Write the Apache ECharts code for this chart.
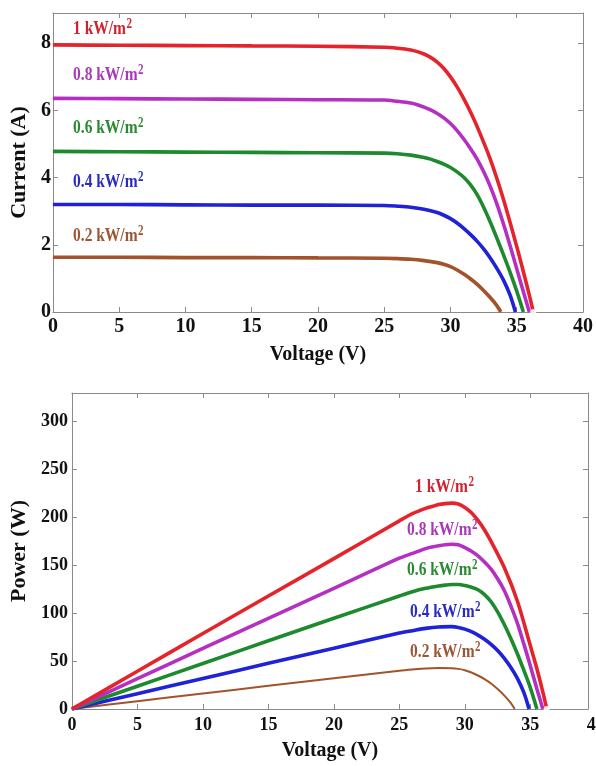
<!DOCTYPE html>
<html>
<head>
<meta charset="utf-8">
<script src="https://cdn.jsdelivr.net/npm/echarts@6/dist/echarts.min.js"></script>
<style>
html,body{margin:0;padding:0;background:#fff;}
#c{width:596px;height:766px;}
</style>
</head>
<body>
<div id="c"></div>
<script>
// ---- data ----
const irradiance = ['1', '0.8', '0.6', '0.4', '0.2'];

const v10 = [0, 5, 10, 15, 20, 25, 26, 27, 27.5, 28, 28.5, 29, 29.5, 30, 30.5, 31, 31.5, 32, 33, 34, 35, 35.5, 36, 36.25];
const i10 = [7.95, 7.94, 7.93, 7.92, 7.91, 7.88, 7.85, 7.80, 7.75, 7.68, 7.58, 7.44, 7.25, 7.00, 6.70, 6.35, 5.96, 5.53, 4.55, 3.35, 1.95, 1.20, 0.42, 0];
const p10 = [0, 39.4, 78.8, 118, 157, 196.5, 204, 209.5, 211.5, 213.5, 214.5, 215, 214, 210.5, 205, 197, 187, 175, 148, 113, 66, 42, 15, 0];

const v08 = [0, 5, 10, 15, 20, 25, 26, 27, 27.5, 28, 28.5, 29, 29.5, 30, 30.5, 31, 31.5, 32, 32.5, 33, 33.5, 34, 34.5, 35, 35.5, 35.95];
const i08 = [6.36, 6.35, 6.34, 6.33, 6.32, 6.31, 6.27, 6.22, 6.17, 6.10, 6.02, 5.91, 5.78, 5.61, 5.40, 5.15, 4.87, 4.56, 4.18, 3.74, 3.22, 2.62, 1.97, 1.29, 0.60, 0];
const p08 = [0, 31.6, 63.2, 94.7, 126, 157.5, 162.5, 167.5, 169.2, 170.5, 171.5, 172, 171.5, 168.5, 164.7, 160, 153.5, 146, 136, 124, 108, 90, 68, 45, 21, 0];

const v06 = [0, 5, 10, 15, 20, 25, 26, 27, 28, 28.5, 29, 29.5, 30, 30.5, 31, 31.5, 32, 32.5, 33, 33.5, 34, 34.5, 35, 35.5];
const i06 = [4.78, 4.77, 4.76, 4.75, 4.74, 4.73, 4.71, 4.67, 4.60, 4.55, 4.48, 4.40, 4.30, 4.17, 4.01, 3.79, 3.50, 3.12, 2.68, 2.20, 1.70, 1.18, 0.62, 0];
const p06 = [0, 23.8, 47.5, 71.2, 94.8, 118, 122.5, 126, 128.5, 129.4, 130, 130, 129, 127.2, 124.5, 119.5, 112, 101.5, 88.5, 74, 58, 40.5, 22, 0];

const v04 = [0, 5, 10, 15, 20, 25, 26, 27, 28, 29, 29.5, 30, 30.5, 31, 31.5, 32, 32.5, 33, 33.5, 34, 34.5, 34.9];
const i04 = [3.20, 3.20, 3.19, 3.18, 3.18, 3.17, 3.15, 3.12, 3.06, 2.96, 2.88, 2.78, 2.65, 2.49, 2.31, 2.11, 1.88, 1.61, 1.30, 0.95, 0.50, 0];
const p04 = [0, 16, 31.9, 47.7, 63.5, 79.3, 81.8, 84.2, 85.7, 86, 85.2, 83.4, 80.8, 77.2, 72.8, 67.5, 61.1, 53.1, 43.6, 32.3, 17.3, 0];

const v02 = [0, 5, 10, 15, 20, 25, 26, 27, 28, 29, 29.5, 30, 30.5, 31, 31.5, 32, 32.5, 33, 33.5, 33.8];
const i02 = [1.63, 1.63, 1.62, 1.62, 1.61, 1.60, 1.59, 1.57, 1.53, 1.47, 1.42, 1.35, 1.25, 1.13, 0.99, 0.83, 0.64, 0.43, 0.19, 0];
const p02 = [0, 8.1, 16.2, 24.2, 32.2, 40, 41.3, 42.4, 42.8, 42.6, 41.9, 40.5, 38.1, 35, 31.2, 26.6, 20.8, 14.2, 6.4, 0];

// ---- styling ----
const lineColors = ['#e5232b', '#b42fc2', '#1e8a2e', '#1f22d6', '#a3532b'];
const labelColors = ['#cf2430', '#a83ab8', '#2a8a32', '#2a2cc0', '#9c5636'];
const FONT = 'Liberation Serif, Times New Roman, serif';
const AX = '#8a8a8a';

const volts = [v10, v08, v06, v04, v02];
const currents = [i10, i08, i06, i04, i02];
const powers = [p10, p08, p06, p04, p02];

function pairs(xs, ys) { return xs.map((x, k) => [x, ys[k]]); }

function mainX(gi, max, fs, gap, margin) {
  return {
    type: 'value', gridIndex: gi, position: 'bottom', min: 0, max: max, interval: 5,
    axisLine: { show: true, onZero: false, lineStyle: { color: AX, width: 1 } },
    axisTick: { show: true, inside: true, length: 5, lineStyle: { color: AX } },
    axisLabel: { show: true, showMaxLabel: max % 5 === 0, margin: margin, color: '#111',
      fontFamily: FONT, fontWeight: 'bold', fontSize: fs },
    splitLine: { show: false },
    name: 'Voltage (V)', nameLocation: 'middle', nameGap: gap,
    nameTextStyle: { fontFamily: FONT, fontWeight: 'bold', fontSize: 20, color: '#111' }
  };
}
function mirrorX(gi, max) {
  return {
    type: 'value', gridIndex: gi, position: 'top', min: 0, max: max, interval: 5,
    axisLine: { show: true, onZero: false, lineStyle: { color: AX, width: 1 } },
    axisTick: { show: true, inside: true, length: 5, lineStyle: { color: AX } },
    axisLabel: { show: false }, splitLine: { show: false }
  };
}
function mainY(gi, max, interval, fs, name, gap, margin) {
  return {
    type: 'value', gridIndex: gi, position: 'left', min: 0, max: max, interval: interval,
    axisLine: { show: true, onZero: false, lineStyle: { color: AX, width: 1 } },
    axisTick: { show: true, inside: true, length: 5, lineStyle: { color: AX } },
    axisLabel: { show: true, showMaxLabel: false, margin: margin, color: '#111',
      fontFamily: FONT, fontWeight: 'bold', fontSize: fs },
    splitLine: { show: false },
    name: name, nameLocation: 'middle', nameGap: gap,
    nameTextStyle: { fontFamily: FONT, fontWeight: 'bold', fontSize: 22, color: '#111' }
  };
}
function mirrorY(gi, max, interval) {
  return {
    type: 'value', gridIndex: gi, position: 'right', min: 0, max: max, interval: interval,
    axisLine: { show: true, onZero: false, lineStyle: { color: AX, width: 1 } },
    axisTick: { show: true, inside: true, length: 5, lineStyle: { color: AX } },
    axisLabel: { show: false }, splitLine: { show: false }
  };
}

const series = [];
volts.forEach((vs, k) => {
  series.push({
    type: 'line', xAxisIndex: 0, yAxisIndex: 0, data: pairs(vs, currents[k]),
    symbol: 'none', smooth: 0.3, lineStyle: { color: lineColors[k], width: 3.6 },
    z: 10 - k, animation: false
  });
  series.push({
    type: 'line', xAxisIndex: 2, yAxisIndex: 2, data: pairs(vs, powers[k]),
    symbol: 'none', smooth: 0.3, lineStyle: { color: lineColors[k], width: k === 4 ? 2 : 3.6 },
    z: 10 - k, animation: false
  });
});
// small open marker at the open-circuit point of the 1 kW/m2 curve
series.push({ type: 'scatter', xAxisIndex: 0, yAxisIndex: 0,
  data: [[v10[v10.length - 1], i10[i10.length - 1]]], symbol: 'emptyCircle', symbolSize: 4,
  itemStyle: { color: '#fff', borderColor: '#d04040', borderWidth: 1 }, z: 20, animation: false });
series.push({ type: 'scatter', xAxisIndex: 2, yAxisIndex: 2,
  data: [[v10[v10.length - 1], p10[p10.length - 1]]], symbol: 'emptyCircle', symbolSize: 4,
  itemStyle: { color: '#fff', borderColor: '#d04040', borderWidth: 1 }, z: 20, animation: false });

const chart = echarts.init(document.getElementById('c'), null, { renderer: 'canvas' });
chart.setOption({
  backgroundColor: '#fff',
  animation: false,
  grid: [
    { left: 42, top: 13, width: 546, height: 299 },
    { left: 59, top: 393, width: 529, height: 316 }
  ],
  xAxis: [mainX(0, 40, 20, 33, 5), mirrorX(0, 40), mainX(1, 39.4, 18, 32, 7), mirrorX(1, 39.4)],
  yAxis: [mainY(0, 8.9, 2, 20, 'Current (A)', 14, 2), mirrorY(0, 8.9, 2),
          mainY(1, 330, 50, 18, 'Power (W)', 27, 4), mirrorY(1, 330, 50)],
  series: series
});

// irradiance labels: main text + superscript, slightly stretched vertically like the source
const measureCtx = document.createElement('canvas').getContext('2d');
const MAIN_FS = 15.5, SUP_FS = 11;
function kwLabel(k, x, y) {
  const txt = irradiance[k] + ' kW/m';
  measureCtx.font = 'bold ' + MAIN_FS + 'px ' + FONT;
  const w = measureCtx.measureText(txt).width;
  return {
    type: 'group', x: x, y: y, scaleY: 1.25, z: 50,
    children: [
      { type: 'text', x: 0, y: 0, z: 50,
        style: { text: txt, align: 'left', verticalAlign: 'middle', fontFamily: FONT,
          fontWeight: 'bold', fontSize: MAIN_FS, fill: labelColors[k] } },
      { type: 'text', x: w + 0.5, y: -9.5, z: 50,
        style: { text: '2', align: 'left', verticalAlign: 'top', fontFamily: FONT,
          fontWeight: 'bold', fontSize: SUP_FS, fill: labelColors[k] } }
    ]
  };
}
const topPos = [[73, 29], [73, 75], [73, 128], [73, 182], [73, 236]];
const botPos = [[415, 487], [407, 530], [407, 570], [410, 612], [410, 652]];
const graphics = [];
topPos.forEach((p, k) => graphics.push(kwLabel(k, p[0], p[1])));
botPos.forEach((p, k) => graphics.push(kwLabel(k, p[0], p[1])));
// the "40" tick label of the lower plot falls past the frame edge
const x40 = chart.convertToPixel({ xAxisIndex: 2 }, 40);
graphics.push({ type: 'text', x: x40, y: 716, z: 50,
  style: { text: '40', align: 'center', verticalAlign: 'top', fontFamily: FONT,
    fontWeight: 'bold', fontSize: 18, fill: '#111' } });
chart.setOption({ graphic: graphics });
</script>
</body>
</html>
